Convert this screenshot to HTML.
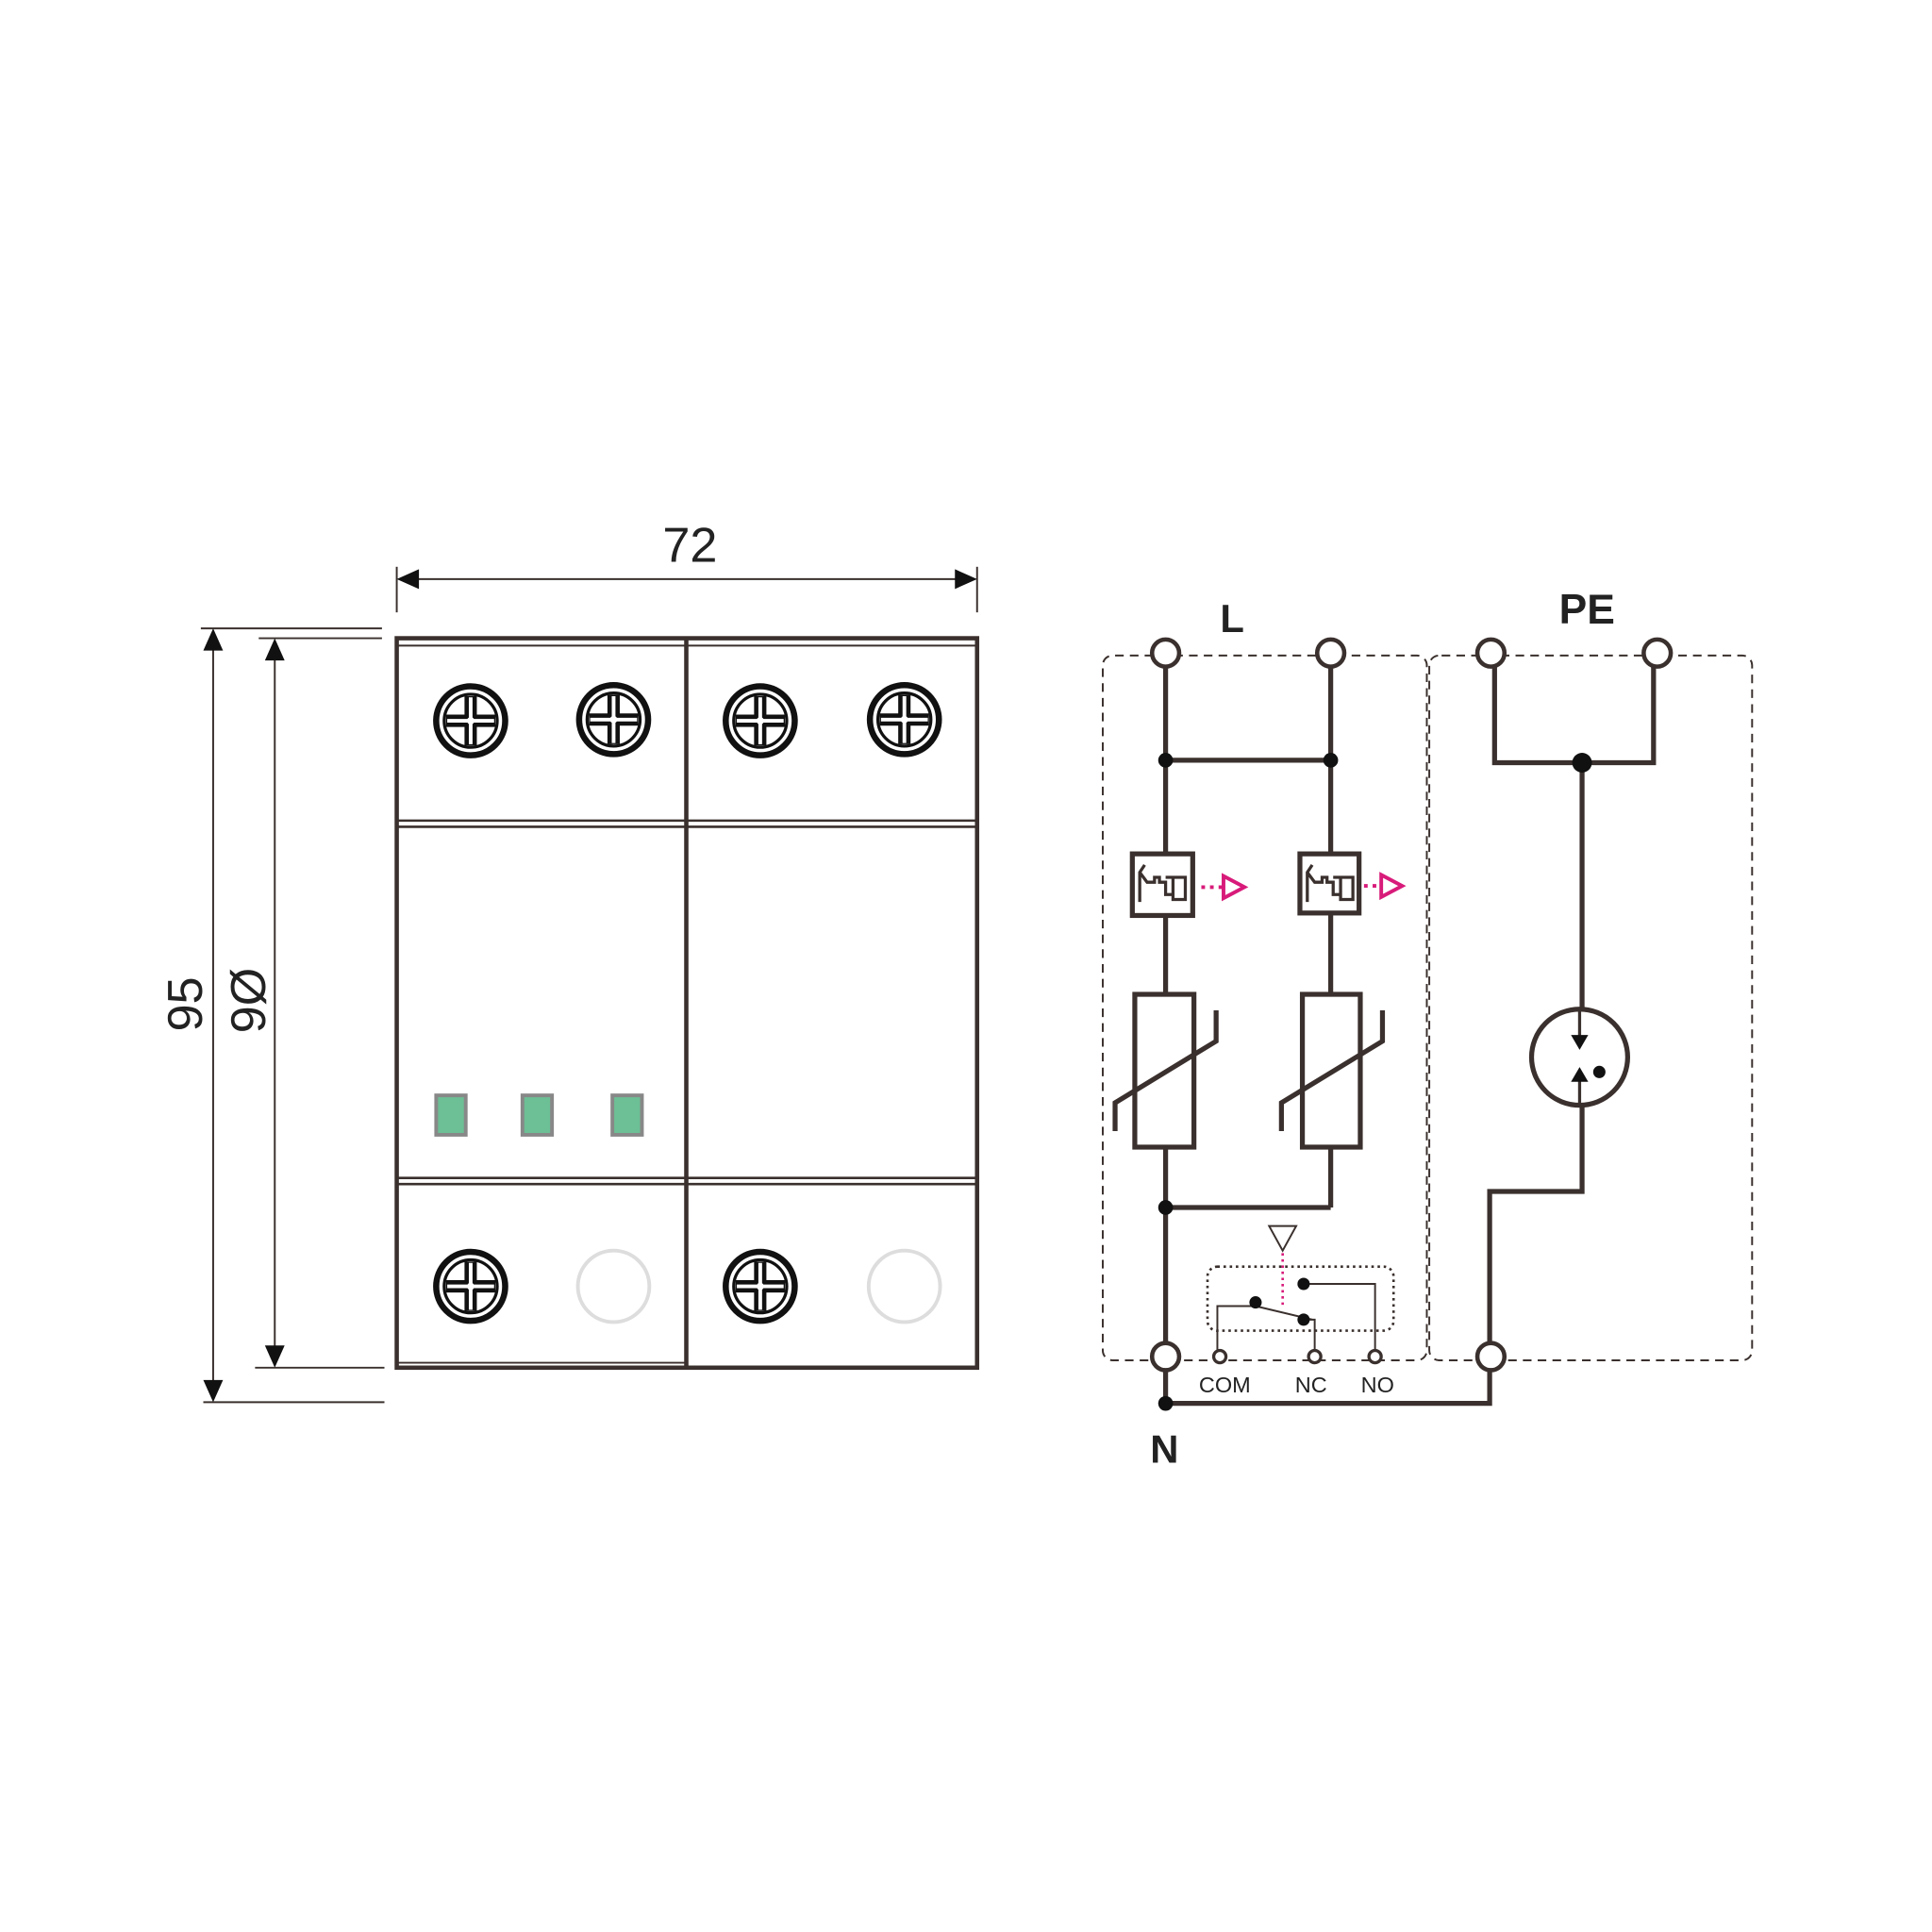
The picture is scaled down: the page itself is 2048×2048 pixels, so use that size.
<!DOCTYPE html>
<html><head><style>html,body{margin:0;padding:0;background:#fff}svg{display:block}</style></head>
<body>
<svg width="2048" height="2048" viewBox="0 0 1568 1568" xmlns="http://www.w3.org/2000/svg">
<defs>
<g id="screw">
<circle r="28" fill="none" stroke="#111" stroke-width="5"/>
<circle r="21.5" fill="none" stroke="#111" stroke-width="2.5"/>
<path d="M-20 0H20M0 -20V20" stroke="#111" stroke-width="10"/>
<path d="M-19 0H19M0 -19V19" stroke="#fff" stroke-width="3"/>
<circle r="3" fill="#fff"/>
</g>
</defs>
<g stroke="#3a302d" fill="none">
<!-- body -->
<rect x="322" y="518" width="471" height="592" stroke-width="3.5"/>
<line x1="557" y1="518" x2="557" y2="1110" stroke-width="3.5"/>
<line x1="322" y1="524" x2="793" y2="524" stroke-width="1.5"/>
<line x1="322" y1="666" x2="793" y2="666" stroke-width="2"/>
<line x1="322" y1="671" x2="793" y2="671" stroke-width="2"/>
<line x1="322" y1="956" x2="793" y2="956" stroke-width="2"/>
<line x1="322" y1="961" x2="793" y2="961" stroke-width="2"/>
<line x1="322" y1="1106" x2="557" y2="1106" stroke-width="1.5"/>
<!-- dims -->
<g stroke-width="1.5">
<line x1="322" y1="460" x2="322" y2="497"/><line x1="793" y1="460" x2="793" y2="497"/>
<line x1="330" y1="470" x2="785" y2="470"/>
<line x1="163" y1="510" x2="310" y2="510"/><line x1="165" y1="1138" x2="312" y2="1138"/>
<line x1="173" y1="520" x2="173" y2="1128"/>
<line x1="210" y1="518" x2="310" y2="518"/><line x1="207" y1="1110" x2="312" y2="1110"/>
<line x1="223" y1="528" x2="223" y2="1100"/>
</g>
</g>
<g fill="#111">
<path d="M322 470l18-8v16z"/><path d="M793 470l-18-8v16z"/>
<path d="M173 510l-8 18h16z"/><path d="M173 1138l-8-18h16z"/>
<path d="M223 518l-8 18h16z"/><path d="M223 1110l-8-18h16z"/>
</g>
<g font-family="Liberation Sans, sans-serif" font-size="40" fill="#222">
<text x="560" y="456" text-anchor="middle">72</text>
<text transform="translate(164,815) rotate(-90)" text-anchor="middle">95</text>
<text transform="translate(215,812) rotate(-90)" text-anchor="middle">9Ø</text>
</g>
<use href="#screw" x="382" y="585"/><use href="#screw" x="498" y="584"/>
<use href="#screw" x="617" y="585"/><use href="#screw" x="734" y="584"/>
<use href="#screw" x="382" y="1044"/><use href="#screw" x="617" y="1044"/>
<circle cx="498" cy="1044" r="29" fill="none" stroke="#ddd" stroke-width="3"/>
<circle cx="734" cy="1044" r="29" fill="none" stroke="#ddd" stroke-width="3"/>
<g fill="#6dbf95" stroke="#888" stroke-width="3">
<rect x="354" y="889" width="24" height="32"/><rect x="424" y="889" width="24" height="32"/><rect x="497" y="889" width="24" height="32"/>
</g>
<!-- schematic -->
<g stroke="#3a302d" fill="none" stroke-width="1.5" stroke-dasharray="7,5">
<path d="M905 532H1150a8 8 0 0 1 8 8V1096a8 8 0 0 1-8 8H903a8 8 0 0 1-8-8V540a8 8 0 0 1 8-8z"/>
<path d="M1170 532H1414a8 8 0 0 1 8 8V1096a8 8 0 0 1-8 8H1168a8 8 0 0 1-8-8V540a8 8 0 0 1 8-8z"/>
</g>
<g stroke="#3a302d" fill="none" stroke-width="4">
<line x1="946" y1="541" x2="946" y2="1139"/>
<line x1="1080" y1="541" x2="1080" y2="980"/>
<line x1="946" y1="617" x2="1080" y2="617"/>
<line x1="946" y1="980" x2="1080" y2="980"/>
<rect x="919" y="693" width="49" height="50" fill="#fff"/>
<rect x="1055" y="693" width="48" height="48" fill="#fff"/>
<rect x="921" y="807" width="48" height="124" fill="#fff"/>
<rect x="1057" y="807" width="47" height="124" fill="#fff"/>
<path d="M905 918V895L987 845V820"/><path d="M1040 918V895L1122 845V820"/>
<path d="M1213 541V619H1342V541"/>
<line x1="1284" y1="619" x2="1284" y2="818"/>
<circle cx="1282" cy="858" r="39"/>
<path d="M1284 898V967H1209V1090"/>
<path d="M946 1139H1209V1112"/>
</g>
<g stroke="#3a302d" fill="none" stroke-width="2.5">
<path d="M929 702L925 708V732M925 708L931 716H937V712H941V716H946V726H952"/>
<path d="M946 712H962V730H952V712"/>
<path d="M1065 702L1061 708V732M1061 708L1067 716H1073V712H1077V716H1082V726H1088"/>
<path d="M1082 712H1098V730H1088V712"/>
<path d="M1282 820V848M1282 870V898"/>
</g>
<g fill="#111">
<path d="M1282 852l-7-12h14z"/><path d="M1282 866l-7 12h14z"/>
<circle cx="1298" cy="870" r="5"/>
<circle cx="946" cy="617" r="6"/><circle cx="1080" cy="617" r="6"/>
<circle cx="946" cy="980" r="6"/><circle cx="1284" cy="619" r="8"/>
<circle cx="946" cy="1139" r="6"/>
</g>
<g stroke="#d81b7a" fill="none" stroke-width="3">
<line x1="975" y1="720" x2="993" y2="720" stroke-dasharray="3,4"/>
<path d="M993 711L1010 720L993 729Z"/>
<line x1="1107" y1="719" x2="1121" y2="719" stroke-dasharray="3,4"/>
<path d="M1121 710L1138 719L1121 728Z"/>
<line x1="1041" y1="1017" x2="1041" y2="1062" stroke-width="2" stroke-dasharray="2,3"/>
</g>
<g stroke="#3a302d" fill="none" stroke-width="1.5">
<path d="M1030 995H1052L1041 1015Z"/>
<rect x="980" y="1028" width="151" height="52" rx="8" stroke-dasharray="2,3" stroke-width="2"/>
<path d="M988 1096V1060H1019L1065 1071"/>
<path d="M1058 1071H1067V1096"/>
<path d="M1058 1042H1116V1096"/>
</g>
<g fill="#111"><circle cx="1019" cy="1057" r="5"/><circle cx="1058" cy="1071" r="5"/><circle cx="1058" cy="1042" r="5"/></g>
<g fill="#fff" stroke="#3a302d" stroke-width="3.5">
<circle cx="946" cy="530" r="11"/><circle cx="1080" cy="530" r="11"/>
<circle cx="1210" cy="530" r="11"/><circle cx="1345" cy="530" r="11"/>
<circle cx="946" cy="1101" r="11"/><circle cx="1210" cy="1101" r="11"/>
</g>
<g fill="#fff" stroke="#3a302d" stroke-width="2.5">
<circle cx="990" cy="1101" r="5"/><circle cx="1067" cy="1101" r="5"/><circle cx="1116" cy="1101" r="5"/>
</g>
<g font-family="Liberation Sans, sans-serif" fill="#222">
<text x="1000" y="513" font-size="32" font-weight="bold" text-anchor="middle">L</text>
<text x="1288" y="506" font-size="34" font-weight="bold" text-anchor="middle">PE</text>
<text x="945" y="1187" font-size="32" font-weight="bold" text-anchor="middle">N</text>
<g font-size="18" text-anchor="middle"><text x="994" y="1130">COM</text><text x="1064" y="1130">NC</text><text x="1118" y="1130">NO</text></g>
</g>
</svg>
</body></html>
